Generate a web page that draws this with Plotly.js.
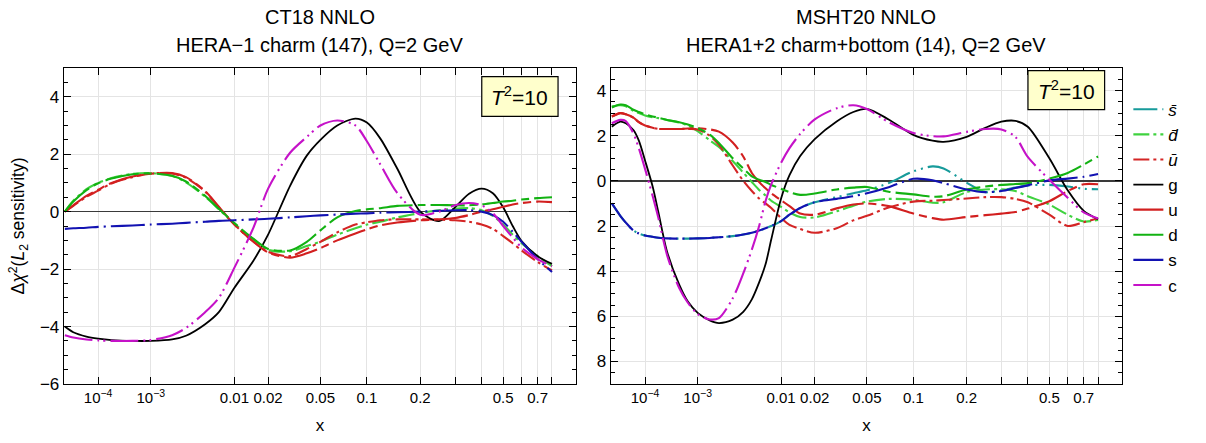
<!DOCTYPE html>
<html>
<head>
<meta charset="utf-8">
<script src="https://cdn.plot.ly/plotly-3.0.1.min.js"></script>
<style>html,body{margin:0;padding:0;background:#fff;}#plot{width:1206px;height:443px;}</style>
</head>
<body>
<div id="plot"></div>
<script>
// ---------------- data (x values and Δχ² sensitivities) ----------------
const xLeft = [1e-5, 2e-5, 5e-5, 1e-4, 2e-4, 5e-4, 1e-3, 2e-3, 3e-3, 5e-3, 7e-3, 0.01, 0.015, 0.02, 0.03, 0.04, 0.05, 0.065, 0.085, 0.1, 0.12, 0.15, 0.2, 0.25, 0.3, 0.35, 0.4, 0.45, 0.5, 0.55, 0.6, 0.7, 0.8];
const gLeft  = [-4.0, -4.2, -4.35, -4.42, -4.47, -4.5, -4.5, -4.45, -4.32, -3.92, -3.5, -2.65, -1.7, -0.8, 0.9, 1.95, 2.5, 3.0, 3.24, 3.1, 2.55, 1.5, 0.0, -0.33, 0.15, 0.62, 0.8, 0.64, 0.15, -0.5, -1.02, -1.55, -1.82];
const cLeft  = [-4.3, -4.38, -4.45, -4.48, -4.5, -4.5, -4.47, -4.3, -4.05, -3.5, -3.0, -1.95, -0.55, 0.8, 2.05, 2.6, 3.0, 3.17, 3.0, 2.45, 1.65, 0.65, -0.11, 0.0, 0.22, 0.3, 0.22, -0.05, -0.5, -0.9, -1.25, -1.65, -1.9];
const sLeft  = [-0.6, -0.58, -0.56, -0.53, -0.51, -0.48, -0.45, -0.42, -0.39, -0.35, -0.32, -0.3, -0.27, -0.25, -0.2, -0.16, -0.13, -0.1, -0.07, -0.06, -0.04, -0.02, 0.0, 0.03, 0.05, 0.05, 0.0, -0.12, -0.35, -0.7, -1.05, -1.65, -2.1];
const uLeft  = [0.0, 0.22, 0.55, 0.76, 1.0, 1.22, 1.32, 1.34, 1.2, 0.72, 0.17, -0.45, -1.05, -1.42, -1.6, -1.45, -1.27, -1.0, -0.76, -0.62, -0.48, -0.38, -0.3, -0.27, -0.22, -0.12, 0.0, 0.08, 0.17, 0.25, 0.3, 0.35, 0.33];
const ubLeft = [0.0, 0.2, 0.52, 0.73, 0.98, 1.2, 1.33, 1.33, 1.18, 0.7, 0.15, -0.45, -1.05, -1.4, -1.55, -1.3, -1.05, -0.72, -0.45, -0.37, -0.3, -0.27, -0.27, -0.28, -0.3, -0.35, -0.45, -0.6, -0.85, -1.1, -1.35, -1.75, -2.05];
const dLeft  = [0.0, 0.35, 0.75, 0.99, 1.15, 1.3, 1.33, 1.25, 1.05, 0.55, 0.1, -0.4, -0.95, -1.3, -1.35, -1.05, -0.65, -0.2, 0.02, 0.08, 0.12, 0.2, 0.23, 0.23, 0.22, 0.22, 0.25, 0.3, 0.35, 0.38, 0.42, 0.47, 0.5];
const dbLeft = [0.0, 0.38, 0.78, 1.0, 1.17, 1.31, 1.34, 1.24, 1.02, 0.52, 0.08, -0.42, -0.97, -1.33, -1.38, -1.2, -1.04, -0.8, -0.58, -0.45, -0.35, -0.2, -0.05, 0.05, 0.1, 0.12, 0.05, -0.15, -0.45, -0.8, -1.1, -1.55, -1.9];

const xRight = [1e-5, 2e-5, 3e-5, 5e-5, 7e-5, 1e-4, 1.5e-4, 2e-4, 3e-4, 5e-4, 7e-4, 1e-3, 1.5e-3, 2e-3, 3e-3, 4e-3, 5e-3, 6e-3, 7e-3, 8e-3, 0.01, 0.012, 0.015, 0.02, 0.03, 0.04, 0.05, 0.07, 0.1, 0.13, 0.15, 0.2, 0.25, 0.3, 0.35, 0.4, 0.5, 0.6, 0.7, 0.8];
const gRight  = [2.4, 2.62, 2.55, 2.25, 1.78, 0.9, -0.25, -1.4, -3.15, -4.6, -5.35, -5.85, -6.18, -6.3, -6.15, -5.8, -5.25, -4.5, -3.7, -2.6, -0.78, 0.25, 1.1, 1.85, 2.63, 3.05, 3.19, 2.72, 2.04, 1.78, 1.73, 1.95, 2.35, 2.62, 2.66, 2.4, 1.0, -0.42, -1.33, -1.7];
const cRight  = [2.55, 2.7, 2.65, 2.1, 1.44, 0.53, -0.67, -1.65, -3.3, -4.75, -5.4, -5.9, -6.14, -6.08, -5.2, -4.1, -3.05, -2.0, -0.9, -0.16, 0.8, 1.45, 2.08, 2.72, 3.22, 3.35, 3.18, 2.6, 2.12, 1.98, 1.97, 2.17, 2.3, 2.28, 1.95, 1.06, 0.05, -0.75, -1.4, -1.67];
const sRight  = [-1.0, -1.55, -1.85, -2.2, -2.33, -2.42, -2.48, -2.52, -2.55, -2.56, -2.56, -2.55, -2.53, -2.5, -2.45, -2.38, -2.3, -2.2, -2.1, -2.0, -1.78, -1.5, -1.2, -0.95, -0.8, -0.68, -0.55, -0.28, 0.09, 0.03, -0.1, -0.38, -0.5, -0.45, -0.32, -0.2, 0.02, 0.1, 0.18, 0.3];
const sbRight = [-1.0, -1.55, -1.85, -2.2, -2.33, -2.42, -2.48, -2.52, -2.55, -2.56, -2.56, -2.55, -2.53, -2.5, -2.45, -2.38, -2.3, -2.2, -2.1, -2.0, -1.78, -1.5, -1.2, -0.95, -0.72, -0.55, -0.42, -0.1, 0.42, 0.64, 0.55, -0.08, -0.5, -0.42, -0.3, -0.2, -0.18, -0.25, -0.35, -0.37];
const uRight  = [2.85, 3.0, 2.95, 2.8, 2.6, 2.45, 2.35, 2.3, 2.3, 2.3, 2.32, 2.33, 2.28, 2.18, 1.7, 1.08, 0.35, -0.05, -0.33, -0.55, -0.86, -1.12, -1.45, -1.5, -1.22, -1.05, -1.0, -1.12, -1.45, -1.65, -1.72, -1.6, -1.52, -1.45, -1.38, -1.23, -0.9, -0.45, -0.15, -0.15];
const ubRight = [2.85, 3.0, 2.95, 2.8, 2.6, 2.45, 2.35, 2.3, 2.3, 2.3, 2.3, 2.28, 2.0, 1.6, 0.68, 0.0, -0.45, -0.78, -1.0, -1.2, -1.65, -1.95, -2.13, -2.3, -2.1, -1.75, -1.55, -1.18, -0.92, -0.88, -0.85, -0.78, -0.72, -0.72, -0.8, -0.95, -1.5, -2.0, -1.83, -1.66];
const dRight  = [3.25, 3.38, 3.35, 3.15, 3.05, 2.95, 2.85, 2.8, 2.7, 2.6, 2.5, 2.34, 2.05, 1.68, 1.0, 0.55, 0.2, 0.05, -0.05, -0.18, -0.35, -0.5, -0.62, -0.56, -0.38, -0.3, -0.27, -0.48, -0.6, -0.7, -0.68, -0.38, -0.25, -0.18, -0.14, -0.1, 0.1, 0.35, 0.72, 1.08];
const dbRight = [3.3, 3.35, 3.3, 3.1, 3.0, 2.9, 2.82, 2.78, 2.7, 2.58, 2.45, 2.2, 1.8, 1.5, 0.88, 0.37, -0.05, -0.4, -0.65, -0.88, -1.15, -1.4, -1.6, -1.62, -1.35, -1.1, -0.92, -0.8, -0.84, -0.97, -0.95, -0.5, -0.38, -0.37, -0.45, -0.68, -1.05, -1.5, -1.8, -1.73];

const xTickVals = [1e-4, 1e-3, 0.01, 0.02, 0.05, 0.1, 0.2, 0.3, 0.4, 0.5, 0.6, 0.7, 0.8];
const xTickText = ["10<sup>−4</sup>", "10<sup>−3</sup>", "0.01", "0.02", "0.05", "0.1", "0.2", "", "", "0.5", "", "0.7", ""];
const yLeftTickVals = [-6, -4, -2, 0, 2, 4];
const yLeftTickText = ["−6", "−4", "−2", "0", "2", "4"];
const yRightTickVals = [-8, -6, -4, -2, 0, 2, 4];
const yRightTickText = ["8", "6", "4", "2", "0", "2", "4"];
const legendNames = ["<i>s̄</i>", "<i>d̄</i>", "<i>ū</i>", "g", "u", "d", "s", "c"];

// ---------------- helpers ----------------
const P = 0.2; // x axis drawn on an x^0.2 scale
const tr = a => a.map(v => Math.pow(v, P));

const COL = {sb:'#179b9b', db:'#3fd23f', ub:'#d42525', g:'#000000', u:'#d21f1f', d:'#12b212', s:'#1212b2', c:'#c512c8'};
const DASH = {
  sb:'24px,5px,2px,5px,2px,5px',
  db:'16px,4px,3px,4px',
  ub:'16px,4px,3px,4px',
  g:'solid',
  u:'34px,5px,8px,5px',
  d:'34px,5px,8px,5px',
  s:'34px,5px,2px,5px',
  c:'28px,5px,2px,4px,2px,5px'
};

function mk(xs, ys, key, name, xa, ya, show) {
  return {
    x: tr(xs), y: ys, type: 'scatter', mode: 'lines',
    name: name, legendgroup: key, showlegend: show,
    xaxis: xa, yaxis: ya,
    line: {color: COL[key], dash: DASH[key], width: key === 'g' ? 1.8 : 2.1, shape: 'spline', smoothing: 0.8},
    hoverinfo: 'skip'
  };
}

const traces = [
  // left panel (CT18)
  mk(xLeft, dbLeft, 'db', legendNames[1], 'x', 'y', false),
  mk(xLeft, ubLeft, 'ub', legendNames[2], 'x', 'y', false),
  mk(xLeft, gLeft,  'g',  legendNames[3], 'x', 'y', false),
  mk(xLeft, uLeft,  'u',  legendNames[4], 'x', 'y', false),
  mk(xLeft, dLeft,  'd',  legendNames[5], 'x', 'y', false),
  mk(xLeft, sLeft,  's',  legendNames[6], 'x', 'y', false),
  mk(xLeft, cLeft,  'c',  legendNames[7], 'x', 'y', false),
  // right panel (MSHT20)
  mk(xRight, sbRight, 'sb', legendNames[0], 'x2', 'y2', true),
  mk(xRight, dbRight, 'db', legendNames[1], 'x2', 'y2', true),
  mk(xRight, ubRight, 'ub', legendNames[2], 'x2', 'y2', true),
  mk(xRight, gRight,  'g',  legendNames[3], 'x2', 'y2', true),
  mk(xRight, uRight,  'u',  legendNames[4], 'x2', 'y2', true),
  mk(xRight, dRight,  'd',  legendNames[5], 'x2', 'y2', true),
  mk(xRight, sRight,  's',  legendNames[6], 'x2', 'y2', true),
  mk(xRight, cRight,  'c',  legendNames[7], 'x2', 'y2', true)
];

const FONT = 'Liberation Sans, Arial, sans-serif';
const xRange = [0.0985, 0.9985];

function xAxis(domain, anchor) {
  return {
    domain: domain, anchor: anchor, range: xRange,
    tickmode: 'array', tickvals: tr(xTickVals), ticktext: xTickText, tickangle: 0,
    ticks: 'inside', ticklen: 7, tickwidth: 1, tickcolor: '#000',
    showline: true, linecolor: '#000', linewidth: 1.3, mirror: 'allticks',
    showgrid: true, gridcolor: '#e4e4e4', gridwidth: 1, zeroline: false,
    tickfont: {size: 15, color: '#000', family: FONT},
    title: {text: 'x', font: {size: 17, color: '#000', family: FONT}, standoff: 13}
  };
}
function yAxis(range, vals, text, anchor, title) {
  const a = {
    anchor: anchor, range: range,
    tickmode: 'array', tickvals: vals, ticktext: text,
    ticks: 'inside', ticklen: 7, tickwidth: 1, tickcolor: '#000',
    minor: {ticks: 'inside', ticklen: 4, tickwidth: 1, tickcolor: '#000', dtick: 0.5, showgrid: false},
    showline: true, linecolor: '#000', linewidth: 1.3, mirror: 'allticks',
    showgrid: true, gridcolor: '#e4e4e4', gridwidth: 1,
    zeroline: true, zerolinecolor: '#3a3a3a', zerolinewidth: 1.3,
    tickfont: {size: 17, color: '#000', family: FONT}
  };
  if (title) a.title = {text: title, font: {size: 17.5, color: '#000', family: FONT}, standoff: 10};
  return a;
}

const tBox = (xr, yr, x0, x1, y0, y1) => ({
  type: 'rect', xref: xr + ' domain', yref: yr + ' domain', x0: x0, x1: x1, y0: y0, y1: y1,
  fillcolor: '#ffffcc', line: {color: '#000', width: 1.2}, layer: 'above'
});
const tText = (xr, yr, xc, yc) => ({
  xref: xr + ' domain', yref: yr + ' domain', x: xc, y: yc, xanchor: 'center', yanchor: 'middle',
  text: '<i>T</i><sup>2</sup>=10', showarrow: false, font: {size: 21, color: '#000', family: FONT}
});
const titleAnn = (x, y, text) => ({
  xref: 'paper', yref: 'paper', x: x, y: y, xanchor: 'center', yanchor: 'middle',
  text: text, showarrow: false, font: {size: 20, color: '#000', family: FONT}
});

const layout = {
  width: 1206, height: 443,
  margin: {l: 64, r: 84, t: 68, b: 59},
  paper_bgcolor: '#fff', plot_bgcolor: '#fff',
  font: {family: FONT, color: '#000'},
  showlegend: true,
  legend: {x: 1.006, y: 0.925, xanchor: 'left', yanchor: 'top', bgcolor: 'rgba(0,0,0,0)',
           font: {size: 17, family: FONT, color: '#000'}, tracegroupgap: 4, traceorder: 'normal'},
  xaxis: xAxis([0, 0.4839], 'y'),
  yaxis: yAxis([-6, 5], yLeftTickVals, yLeftTickText, 'x', 'Δ<i>χ</i><sup>2</sup>(<i>L</i><sub>2</sub> sensitivity)'),
  xaxis2: xAxis([0.517, 1], 'y2'),
  yaxis2: yAxis([-9, 5], yRightTickVals, yRightTickText, 'x2', null),
  shapes: [
    tBox('x', 'y', 0.816, 0.965, 0.847, 0.973),
    tBox('x2', 'y2', 0.816, 0.966, 0.868, 0.992)
  ],
  annotations: [
    tText('x', 'y', 0.8905, 0.91),
    tText('x2', 'y2', 0.891, 0.93),
    titleAnn(0.2419, 1.162, 'CT18 NNLO'),
    titleAnn(0.2419, 1.074, 'HERA−1 charm (147), Q=2 GeV'),
    titleAnn(0.7585, 1.162, 'MSHT20 NNLO'),
    titleAnn(0.7585, 1.074, 'HERA1+2 charm+bottom (14), Q=2 GeV')
  ]
};

Plotly.newPlot('plot', traces, layout, {displayModeBar: false, staticPlot: true});
</script>
</body>
</html>
